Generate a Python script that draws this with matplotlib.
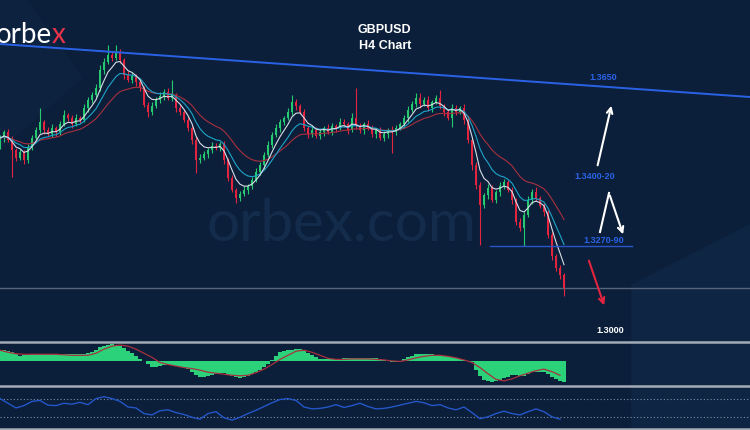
# GBPUSD H4 chart with MAs, MACD and RSI panels
import numpy as np
import pandas as pd
import matplotlib
matplotlib.use("Agg")
import matplotlib.pyplot as plt
from matplotlib.patches import Polygon
from matplotlib.lines import Line2D

# closing prices (one per candle)
closes = [
    1.3496, 1.3508, 1.3492, 1.3472, 1.3456, 1.3468, 1.3452, 1.3476, 1.3496, 1.3512,
    1.3528, 1.3512, 1.3504, 1.3516, 1.3508, 1.3524, 1.3542, 1.3536, 1.3524, 1.3536,
    1.3532, 1.3556, 1.3572, 1.3582, 1.3596, 1.3632, 1.3648, 1.3662, 1.3656, 1.3668,
    1.3652, 1.3622, 1.3612, 1.3620, 1.3608, 1.3596, 1.3562, 1.3548, 1.3560, 1.3572,
    1.3580, 1.3588, 1.3576, 1.3582, 1.3556, 1.3548, 1.3532, 1.3516, 1.3492, 1.3452,
    1.3456, 1.3464, 1.3472, 1.3480, 1.3476, 1.3484, 1.3452, 1.3416, 1.3392, 1.3376,
    1.3384, 1.3392, 1.3400, 1.3412, 1.3428, 1.3442, 1.3462, 1.3482, 1.3502, 1.3516,
    1.3528, 1.3536, 1.3548, 1.3568, 1.3560, 1.3548, 1.3516, 1.3504, 1.3512, 1.3500,
    1.3508, 1.3516, 1.3508, 1.3520, 1.3516, 1.3528, 1.3524, 1.3512, 1.3536, 1.3520,
    1.3512, 1.3524, 1.3516, 1.3504, 1.3512, 1.3496, 1.3504, 1.3512, 1.3508, 1.3516,
    1.3524, 1.3536, 1.3552, 1.3564, 1.3576, 1.3564, 1.3572, 1.3556, 1.3568, 1.3576,
    1.3560, 1.3548, 1.3536, 1.3556, 1.3548, 1.3556, 1.3532, 1.3492, 1.3442, 1.3402,
    1.3362, 1.3382, 1.3396, 1.3372, 1.3388, 1.3400, 1.3408, 1.3392, 1.3372, 1.3328,
    1.3316, 1.3342, 1.3372, 1.3388, 1.3376, 1.3360, 1.3348, 1.3302, 1.3260, 1.3236,
    1.3222, 1.3196,
]
first_open = 1.3480

# wick lengths in pips above / below the candle body
upper_wick = [
    6, 4, 6, 8, 4, 6, 4, 8, 6, 6,
    28, 4, 6, 8, 4, 6, 10, 4, 6, 8,
    4, 8, 6, 6, 8, 10, 8, 20, 6, 14,
    6, 4, 8, 6, 4, 6, 4, 6, 8, 6,
    8, 6, 8, 30, 4, 6, 4, 6, 4, 6,
    8, 6, 4, 8, 6, 4, 6, 4, 6, 4,
    6, 8, 4, 6, 8, 6, 6, 8, 6, 8,
    6, 4, 8, 14, 6, 4, 6, 4, 8, 6,
    6, 4, 8, 6, 4, 8, 6, 4, 10, 60,
    6, 4, 8, 6, 4, 6, 6, 4, 8, 6,
    4, 6, 8, 6, 10, 10, 6, 8, 4, 6,
    16, 4, 6, 8, 6, 4, 8, 6, 4, 6,
    6, 4, 8, 6, 4, 8, 6, 4, 6, 4,
    8, 6, 8, 6, 10, 4, 6, 4, 6, 4,
    6, 4,
]
lower_wick = [
    6, 8, 4, 54, 6, 4, 8, 6, 4, 6,
    6, 8, 4, 6, 8, 6, 4, 6, 8, 4,
    6, 4, 8, 6, 4, 6, 8, 4, 6, 4,
    6, 8, 4, 6, 8, 6, 4, 10, 6, 4,
    6, 8, 4, 6, 8, 6, 4, 6, 8, 26,
    6, 4, 8, 6, 4, 6, 8, 6, 4, 10,
    6, 4, 8, 6, 4, 6, 8, 4, 6, 4,
    8, 6, 4, 6, 8, 4, 6, 8, 6, 4,
    6, 8, 4, 6, 8, 4, 6, 8, 4, 6,
    6, 8, 4, 6, 8, 4, 6, 8, 42, 6,
    4, 6, 8, 4, 6, 8, 4, 6, 8, 4,
    6, 8, 4, 18, 6, 4, 8, 6, 10, 8,
    80, 6, 8, 4, 6, 8, 6, 4, 8, 6,
    6, 36, 4, 8, 6, 4, 8, 6, 8, 6,
    8, 16,
]

# MACD histogram (pips, one per candle) and signal line (every 2nd candle)
macd_hist = [
    22, 22, 20, 18, 14, 10, 12, 13, 14, 14,
    14, 14, 14, 14, 14, 14, 14, 14, 14, 14,
    14, 15, 16, 18, 22, 28, 30, 33, 34, 33,
    30, 26, 21, 16, 10, 4, 0, -4, -10, -10,
    -8, -6, -6, -7, -8, -10, -12, -15, -20, -26,
    -30, -30, -28, -26, -24, -22, -23, -26, -29, -31,
    -32, -30, -28, -24, -20, -16, -10, -4, 2, 10,
    18, 21, 22, 23, 24, 24, 20, 16, 12, 8,
    4, 4, 4, 4, 4, 5, 6, 6, 6, 7,
    6, 6, 6, 6, 6, 4, 2, 0, -1, -2,
    1, 5, 8, 11, 14, 14, 14, 14, 14, 13,
    12, 11, 10, 8, 6, 4, 2, 0, -2, -16,
    -28, -36, -39, -40, -39, -36, -33, -30, -26, -27,
    -29, -29, -24, -21, -20, -20, -21, -25, -30, -34,
    -38, -40,
]
macd_signal = [
    22, 18, 15, 14, 14, 14, 14, 14, 13, 12,
    12, 12, 16, 24, 30, 32, 30, 24, 16, 8,
    -2, -6, -9, -12, -14, -17, -21, -23, -25, -27,
    -28, -27, -22, -15, -6, 4, 12, 20, 22, 18,
    12, 6, 4, 4, 5, 5, 5, 4, 3, 1,
    0, 3, 7, 10, 12, 12, 10, 7, 3, -2,
    -12, -24, -35, -38, -34, -28, -23, -18, -15, -20,
    -27,
]
# RSI(14), every 2nd candle
rsi_vals = [
    70, 60, 50, 55, 64, 66, 56, 55, 60, 58,
    62, 57, 70, 74, 70, 64, 52, 50, 38, 35,
    44, 46, 40, 36, 30, 26, 38, 42, 29, 24,
    30, 38, 45, 53, 61, 68, 70, 66, 52, 48,
    49, 52, 57, 51, 55, 60, 53, 48, 49, 52,
    56, 60, 64, 61, 55, 57, 50, 46, 52, 40,
    27, 31, 38, 43, 38, 35, 42, 48, 42, 31,
    26,
]

trend_idx = [0, 187.5]
trend_price = [1.3684, 1.3578]
support_level = 1.3280
level_labels = ["1.3650", "1.3400-20", "1.3270-90", "1.3000"]
title_lines = ["GBPUSD", "H4 Chart"]

bg = "#0b1f3a"
green = "#26c96f"
red = "#e3243f"
blue = "#2a62e6"

plt.rcParams["font.family"] = ["Liberation Sans", "DejaVu Sans"]

close = np.array(closes)
opens = np.r_[first_open, close[:-1]]
highs = np.maximum(opens, close) + np.array(upper_wick) * 0.0001
lows = np.minimum(opens, close) - np.array(lower_wick) * 0.0001
idx = np.arange(len(close))
idx2 = idx[::2]

s = pd.Series(close)
ma_fast = s.ewm(span=5, adjust=False).mean()
ma_mid = s.ewm(span=10, adjust=False).mean()
ma_slow = s.ewm(span=20, adjust=False).mean()

fig = plt.figure(figsize=(7.5, 4.3), dpi=100, facecolor=bg)

# faint background shapes
fig.add_artist(Polygon([(0, 1), (27 / 750, 1), (82 / 750, 1 - 78 / 430), (0, 1 - 150 / 430)],
                       closed=True, color="#0d223f", zorder=-5, transform=fig.transFigure))
fig.add_artist(Polygon([(632 / 750, 0), (632 / 750, 1 - 285 / 430), (1, 1 - 225 / 430), (1, 0)],
                       closed=True, color="#0f2544", zorder=-5, transform=fig.transFigure))

ax = fig.add_axes([0, 88 / 430, 1, 342 / 430])
ax.set_facecolor("none")
ax.set_xlim(0, 187.5)
ax.set_ylim(1.3772 - 0.0002 * 342, 1.3772)
ax.axis("off")

# watermark
ax.text(0.455, 0.345, "orbex.com", transform=ax.transAxes, fontsize=42, color="#142c4c",
        family=["Lato", "DejaVu Sans"], ha="center", va="center", zorder=0)

cols = np.where(close >= opens, green, red)
ax.vlines(idx, lows, highs, colors=cols, lw=0.8, zorder=2)
ax.bar(idx, np.maximum(np.abs(close - opens), 0.0002), bottom=np.minimum(opens, close),
       width=0.6, color=cols, zorder=3)

ax.plot(idx, ma_slow, color="#a8303f", lw=0.8, zorder=4)
ax.plot(idx, ma_mid, color="#1ea5c8", lw=0.8, zorder=4)
ax.plot(idx, ma_fast, color="#d9dee6", lw=0.8, zorder=5)

# trendline, support and last price
ax.plot(trend_idx, trend_price, color=blue, lw=1.4, zorder=6)
ax.plot([122.5, 158], [support_level, support_level], color="#2a55c8", lw=1, zorder=6)
ax.axhline(close[-1], color="#56657c", lw=1, zorder=1)

lab_pos = [(150.75, 1.3617), (148.75, 1.3418), (151, 1.3291), (152.5, 1.3110)]
lab_col = [blue, blue, blue, "white"]
for t, (x, y), c in zip(level_labels, lab_pos, lab_col):
    ax.text(x, y, t, color=c, fontsize=6.5, fontweight="bold", ha="center", va="center")

# scenario arrows
ax.annotate("", xy=(153, 1.3566), xytext=(149.25, 1.3436),
            arrowprops=dict(arrowstyle="->", color="white", lw=1.5, mutation_scale=10))
ax.plot([150, 152.25], [1.3308, 1.3386], color="white", lw=1.5)
ax.annotate("", xy=(156, 1.3298), xytext=(152.25, 1.3386),
            arrowprops=dict(arrowstyle="->", color="white", lw=1.5, mutation_scale=10))
ax.annotate("", xy=(151.25, 1.3156), xytext=(147, 1.3256),
            arrowprops=dict(arrowstyle="->", color=red, lw=1.5, mutation_scale=10))

# logo and title
logo = fig.text(-0.006, 1 - 35 / 430, "orbe", color="white", fontsize=20,
                family=["Lato", "DejaVu Sans"], ha="left", va="center")
bb = logo.get_window_extent(fig.canvas.get_renderer())
fig.text(bb.x1 / 750, 1 - 35 / 430, "x", color="#e8344a", fontsize=20,
         family=["Lato", "DejaVu Sans"], ha="left", va="center")
fig.text(0.513, 1 - 30 / 430, title_lines[0], color="white", fontsize=9, fontweight="bold", ha="center", va="center")
fig.text(0.513, 1 - 46 / 430, title_lines[1], color="white", fontsize=9, fontweight="bold", ha="center", va="center")

# MACD panel
axm = fig.add_axes([0, 45 / 430, 1, 43 / 430])
axm.set_facecolor("none")
axm.set_xlim(0, 187.5)
axm.set_ylim(-46, 38)
axm.bar(idx, macd_hist, width=0.82, color="#2bd27a")
axm.plot(idx2, macd_signal, color="#a8303f", lw=0.9)
axm.axis("off")

# RSI panel
axr = fig.add_axes([0, 1 / 430, 1, 44 / 430])
axr.set_facecolor("none")
axr.set_xlim(0, 187.5)
axr.set_ylim(5, 99)
axr.axhline(70, color="#7f8ea6", lw=0.8, ls=(0, (1, 2)))
axr.axhline(30, color="#7f8ea6", lw=0.8, ls=(0, (1, 2)))
axr.plot(idx2, rsi_vals, color="#2456c8", lw=1)
axr.axis("off")

# panel separators
for py in [342, 385.5, 429]:
    fig.add_artist(Line2D([0, 1], [1 - py / 430, 1 - py / 430], color="#a3abb7", lw=1.8,
                          transform=fig.transFigure))

fig.savefig("out.png", dpi=100, facecolor=bg)
